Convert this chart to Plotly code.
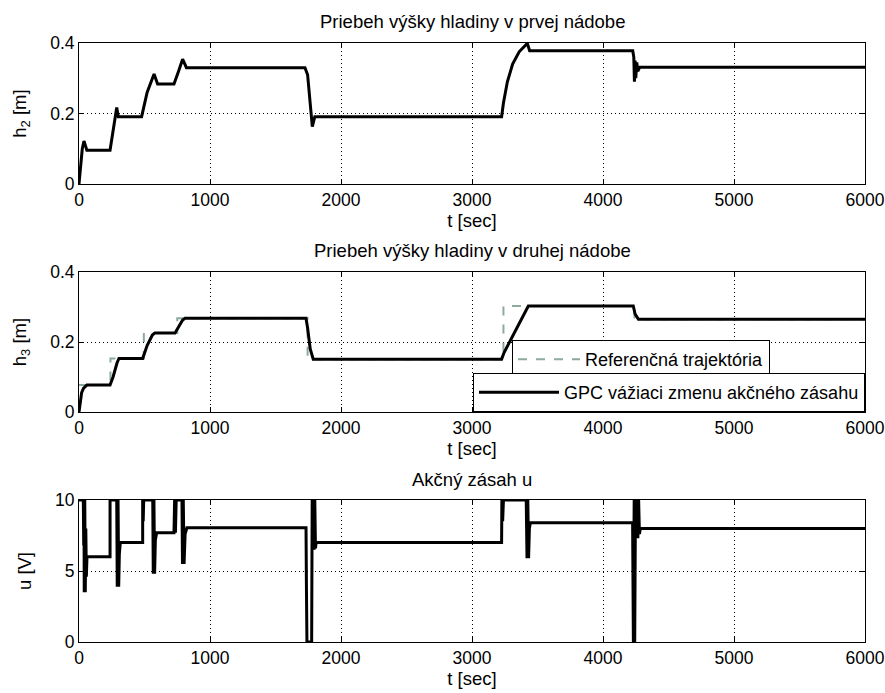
import plotly.graph_objects as go

# ---------------- data ----------------
h2_t = [0, 10, 25, 38, 46, 60, 237, 260, 288, 300, 478, 520, 573, 600, 725, 760, 791, 820,
        1725, 1745, 1765, 1781, 1800, 3226, 3240, 3270, 3310, 3360, 3422, 3440,
        4227, 4235, 4240, 4245, 4250, 4258, 4265, 4280, 6000]
h2_v = [0, 0.05, 0.10, 0.122, 0.11, 0.096, 0.096, 0.15, 0.217, 0.191, 0.191, 0.26, 0.312, 0.284,
        0.284, 0.32, 0.354, 0.330, 0.330, 0.31, 0.23, 0.163, 0.191, 0.191, 0.23, 0.29, 0.34,
        0.375, 0.399, 0.378, 0.378, 0.36, 0.29, 0.35, 0.30, 0.345, 0.32, 0.331, 0.331]

h3_t = [0, 8, 20, 35, 60, 237, 260, 290, 305, 486, 520, 560, 580, 733, 760, 790, 809,
        1733, 1745, 1765, 1788, 3226, 3245, 3430, 4231, 4245, 4270, 6000]
h3_v = [0, 0.03, 0.055, 0.068, 0.077, 0.077, 0.10, 0.14, 0.153, 0.153, 0.19, 0.22, 0.226,
        0.226, 0.245, 0.262, 0.268, 0.268, 0.24, 0.18, 0.151, 0.151, 0.17, 0.303, 0.303,
        0.28, 0.265, 0.265]

ref_t = [0, 240, 240, 495, 495, 750, 750, 1745, 1745, 3240, 3240, 4240, 4240, 6000]
ref_v = [0.077, 0.077, 0.153, 0.153, 0.226, 0.226, 0.268, 0.268, 0.151, 0.151, 0.303, 0.303,
         0.265, 0.265]

u_t = [0, 33, 36, 38, 40, 44, 48, 52, 56, 61, 237, 237, 288, 292, 298, 303, 308, 315,
       486, 486, 490, 494, 563, 567, 572, 577, 583, 593, 725, 730, 736, 742, 786, 790, 796,
       802, 810, 824, 1733, 1736, 1740, 1776, 1780, 1785, 1790, 1795, 1800, 1805, 1810,
       3226, 3228, 3234, 3240, 3414, 3420, 3426, 3432, 3438, 3445, 4226, 4232, 4238, 4242,
       4248, 4254, 4260, 4266, 4272, 4278, 4285, 6000]
u_v = [10, 10, 6.8, 10, 3.5, 10, 3.5, 8, 4.6, 6, 6, 10, 10, 3.9, 10, 3.9, 6.2, 7,
       7, 10, 8.5, 10, 10, 4.8, 10, 4.8, 7.2, 7.7, 7.7, 10, 7.7, 10, 10, 5.5, 10,
       5.5, 7.6, 8.05, 8.05, 4, 0, 0, 10, 6.5, 10, 6.5, 10, 6.6, 7,
       7, 10, 8.5, 10, 10, 5.9, 10, 5.9, 8, 8.4, 8.4, 0, 10, 0,
       10, 7.3, 10, 7.3, 10, 7.6, 8.0, 8.0]

titles = ["Priebeh výšky hladiny v prvej nádobe",
          "Priebeh výšky hladiny v druhej nádobe",
          "Akčný zásah u"]
ylabels = ["h<sub>2</sub> [m]", "h<sub>3</sub> [m]", "u [V]"]
xlabel = "t [sec]"
ref_name = "Referenčná trajektória"
gpc_name = "GPC vážiaci zmenu akčného zásahu"

# ---------------- figure ----------------
W, H = 885, 693
FONT = "Liberation Sans, Arial, sans-serif"
FS = 18.5
FT = 17.5
FL = 18
fig = go.Figure()

fig.add_trace(go.Scatter(x=h2_t, y=h2_v, mode="lines", line=dict(color="black", width=3),
                         showlegend=False, xaxis="x", yaxis="y"))
fig.add_trace(go.Scatter(x=ref_t, y=ref_v, mode="lines", name=ref_name,
                         line=dict(color="rgb(140,172,155)", width=2, dash="dash"),
                         xaxis="x2", yaxis="y2", legend="legend"))
fig.add_trace(go.Scatter(x=h3_t, y=h3_v, mode="lines", name=gpc_name,
                         line=dict(color="black", width=3),
                         xaxis="x2", yaxis="y2", legend="legend2"))
fig.add_trace(go.Scatter(x=u_t, y=u_v, mode="lines", line=dict(color="black", width=3),
                         showlegend=False, xaxis="x3", yaxis="y3"))

L, R = 79, 865
domains = [(43, 184), (272, 412), (500, 642)]
ydom = [[1 - b / H, 1 - t / H] for (t, b) in domains]
yranges = [[0, 0.4], [0, 0.4], [0, 10]]
yticks = [[0, 0.2, 0.4], [0, 0.2, 0.4], [0, 5, 10]]
ytext = [["0", "0.2", "0.4"], ["0", "0.2", "0.4"], ["0", "5", "10"]]

axcommon = dict(showline=True, linecolor="black", linewidth=1, mirror="ticks",
                ticks="inside", ticklen=5, tickcolor="black",
                showgrid=True, gridcolor="black", gridwidth=1, griddash="1px,3px",
                zeroline=False, automargin=False, ticklabeloverflow="allow",
                tickfont=dict(family=FONT, size=FT, color="black"))

for i in range(3):
    s = "" if i == 0 else str(i + 1)
    fig.layout["xaxis" + s] = dict(axcommon, domain=[0, 1], range=[0, 6000],
                                   tickvals=[0, 1000, 2000, 3000, 4000, 5000, 6000],
                                   anchor="y" + s,
                                   title=dict(text=xlabel, standoff=0,
                                              font=dict(family=FONT, size=FS, color="black")))
    fig.layout["yaxis" + s] = dict(axcommon, domain=ydom[i], range=yranges[i],
                                   tickvals=yticks[i], ticktext=ytext[i], anchor="x" + s,
                                   title=dict(text=ylabels[i], standoff=18,
                                              font=dict(family=FONT, size=FS, color="black")))
    fig.add_annotation(text=titles[i], xref="paper", yref="paper", x=0.5,
                       y=ydom[i][1], yshift=21, yanchor="middle", showarrow=False,
                       font=dict(family=FONT, size=FS, color="black"))

fig.update_layout(
    width=W, height=H,
    margin=dict(l=L, r=W - R, t=0, b=0, autoexpand=False),
    paper_bgcolor="white", plot_bgcolor="white",
    font=dict(family=FONT, size=FS, color="black"),
    legend=dict(x=(512 - L) / (R - L), y=1 - 379 / H,
                xanchor="left", yanchor="bottom",
                bgcolor="white", bordercolor="black", borderwidth=1,
                font=dict(family=FONT, size=FL, color="black"), itemwidth=62),
    legend2=dict(x=1, y=ydom[1][0], xanchor="right", yanchor="bottom",
                 bgcolor="white", bordercolor="black", borderwidth=1,
                 font=dict(family=FONT, size=FL, color="black"), itemwidth=80),
)

fig.write_html("out.html",
               config={"displayModeBar": False},
               post_script="document.body.style.margin='0px';"
                           "document.documentElement.style.overflow='hidden';")
